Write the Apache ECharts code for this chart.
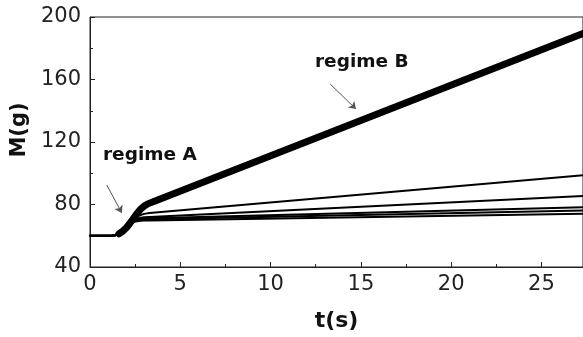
<!DOCTYPE html>
<html>
<head>
<meta charset="utf-8">
<script src="https://cdn.jsdelivr.net/npm/echarts@6/dist/echarts.min.js"></script>
<style>
html,body{margin:0;padding:0;background:#fff;}
#chart{width:583px;height:337px;}
</style>
</head>
<body>
<div id="chart"></div>
<script>
// time points (s)
var tThin = [0, 1.2, 1.4, 1.6, 1.8, 2.0, 2.2, 2.4, 2.6, 2.8, 3.0, 3.3, 27.3];
var tB    = [1.6, 1.8, 2.0, 2.2, 2.4, 2.6, 2.8, 3.0, 3.2, 3.5, 27.3];
// mass (g)
var mB  = [61.2, 62.8, 65, 67.8, 71, 74.2, 77, 79, 80.4, 81.8, 189.5];
var mC1 = [60, 60, 60.3, 61.2, 62.8, 65, 67.5, 70, 72, 73.3, 74.0, 74.6, 98.8];
var mC2 = [60, 60, 60.3, 61.2, 62.8, 65, 67.5, 69.5, 70.8, 71.5, 71.8, 72.0, 85.5];
var mC3 = [60, 60, 60.3, 61.2, 62.8, 65, 67.3, 69.2, 70.3, 70.8, 71.0, 71.2, 78.3];
var mC4 = [60, 60, 60.3, 61.2, 62.8, 65, 67.2, 69.0, 69.9, 70.2, 70.4, 70.5, 76.1];
var mC5 = [60, 60, 60.3, 61.2, 62.8, 65, 67.0, 68.7, 69.3, 69.6, 69.7, 69.8, 74.1];
var xTicks = [0, 5, 10, 15, 20, 25];
var yTicks = [40, 80, 120, 160, 200];
var labelA = 'regime A';
var labelB = 'regime B';
// arrow annotations [start, end] in data coords
var arrowA = [[0.93, 92.5], [1.76, 74.6]];
var arrowB = [[13.3, 157.1], [14.73, 141.1]];

function pairs(xs, ys) { return xs.map(function (x, i) { return [x, ys[i]]; }); }

var chart = echarts.init(document.getElementById('chart'), null, {renderer: 'canvas'});
var font = 'DejaVu Sans';
function thin(data) {
  return {
    type: 'line', data: data, showSymbol: false, symbol: 'none', smooth: false,
    lineStyle: {color: '#000', width: 2, join: 'round', cap: 'round'}, silent: true, z: 3
  };
}
var series = [
  thin(pairs(tThin, mC1)),
  thin(pairs(tThin, mC2)),
  thin(pairs(tThin, mC3)),
  thin(pairs(tThin, mC4)),
  thin(pairs(tThin, mC5)),
  {
    type: 'line', data: pairs(tB, mB), showSymbol: false, symbol: 'none', smooth: false,
    lineStyle: {color: '#000', width: 7, join: 'round', cap: 'round'}, silent: true, z: 4,
    markLine: {
      silent: true,
      symbol: ['none', 'arrow'],
      symbolSize: 7,
      label: {show: false},
      lineStyle: {color: '#555', width: 1, type: 'solid'},
      data: [
        [{coord: arrowA[0]}, {coord: arrowA[1]}],
        [{coord: arrowB[0]}, {coord: arrowB[1]}]
      ]
    }
  }
];

chart.setOption({
  animation: false,
  backgroundColor: '#fff',
  grid: {left: 90, top: 17, bottom: 70, right: -4, show: true, borderColor: '#222', borderWidth: 1, backgroundColor: 'transparent'},
  xAxis: {
    type: 'value', min: 0, max: 27.3, interval: 5,
    name: 't(s)', nameLocation: 'middle', nameGap: 43,
    nameTextStyle: {fontFamily: font, fontWeight: 'bold', fontSize: 22, color: '#111'},
    axisLine: {show: true, lineStyle: {color: '#222', width: 1}},
    axisTick: {show: true, inside: true, length: 5, lineStyle: {color: '#222'}},
    minorTick: {show: true, splitNumber: 2, length: 3, lineStyle: {color: '#222'}},
    splitLine: {show: false},
    axisLabel: {
      fontFamily: font, fontSize: 21, color: '#222', margin: 7,
      showMaxLabel: false,
      formatter: function (v) { return xTicks.indexOf(v) >= 0 ? String(v) : ''; }
    }
  },
  yAxis: {
    type: 'value', min: 40, max: 200, interval: 40,
    name: 'M(g)', nameLocation: 'middle', nameGap: 56, nameRotate: 90,
    nameTextStyle: {fontFamily: font, fontWeight: 'bold', fontSize: 21, color: '#111', padding: [0, 0, 0, 24]},
    axisLine: {show: true, lineStyle: {color: '#222', width: 1}},
    axisTick: {show: true, inside: true, length: 5, lineStyle: {color: '#222'}},
    minorTick: {show: true, splitNumber: 2, length: 3, lineStyle: {color: '#222'}},
    splitLine: {show: false},
    axisLabel: {
      fontFamily: font, fontSize: 21, color: '#222', margin: 9,
      formatter: function (v) { return yTicks.indexOf(v) >= 0 ? String(v) : ''; }
    }
  },
  graphic: [
    {type: 'text', left: 103, top: 146, style: {text: labelA, fontFamily: font, fontWeight: 'bold', fontSize: 18.5, fill: '#111'}},
    {type: 'text', left: 315, top: 53, style: {text: labelB, fontFamily: font, fontWeight: 'bold', fontSize: 18.5, fill: '#111'}}
  ],
  series: series
});
</script>
</body>
</html>
